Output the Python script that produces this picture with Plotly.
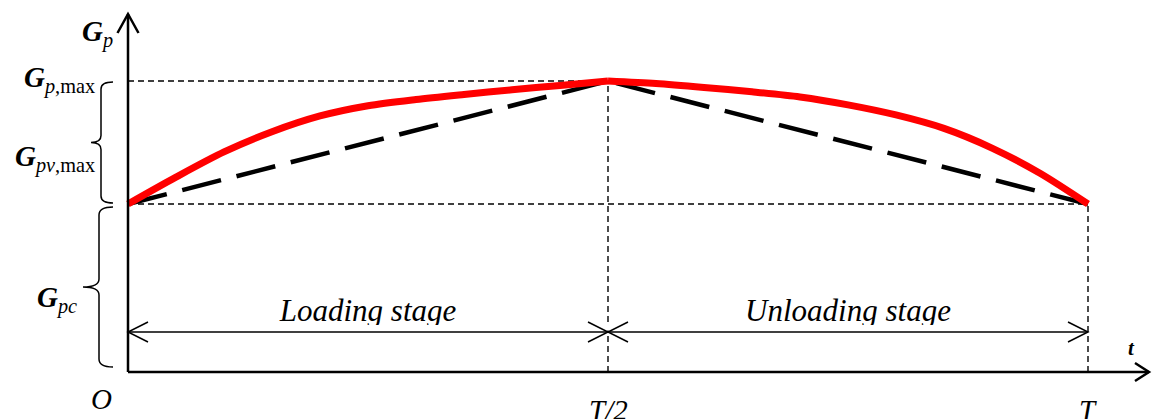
import plotly.graph_objects as go

# ---- data -------------------------------------------------------------
# time as a fraction of the period T
t_curve = [0.00, 0.05, 0.10, 0.15, 0.20, 0.25, 0.30, 0.35, 0.40, 0.45, 0.50,
           0.55, 0.60, 0.65, 0.70, 0.75, 0.80, 0.85, 0.90, 0.95, 1.00]
# actual pressure-related force G_p over the cycle (units of G_pc)
gp_curve = [1.000, 1.160, 1.310, 1.430, 1.524, 1.585, 1.622, 1.652, 1.680, 1.706, 1.732,
            1.717, 1.694, 1.668, 1.637, 1.590, 1.530, 1.450, 1.333, 1.183, 1.000]

Gpc = 1.0          # constant part
Gpv_max = 0.732    # variable part at its peak
Gp_max = Gpc + Gpv_max

t_ticks = [0.0, 0.5, 1.0]
t_tick_labels = ["O", "T/2", "T"]
stage_labels = ["Loading stage", "Unloading stage"]

# linear (idealised) loading / unloading path
t_lin = [0.0, 0.5, 1.0]
gp_lin = [Gpc, Gp_max, Gpc]

# ---- canvas scaling ---------------------------------------------------
W, H = 1152, 419
X0_PX, Y0_PX = 128, 372          # pixel position of the origin
PX_PER_T, PX_PER_G = 960, 168


def tx(px):
    return (px - X0_PX) / PX_PER_T


def gy(py):
    return (Y0_PX - py) / PX_PER_G


def dx(px):
    return px / PX_PER_T


def dy(px):
    return px / PX_PER_G


FONT = "Liberation Serif"
BLACK = "#000000"

fig = go.Figure()

# thin dashed reference lines
ref_lines = [
    ([0, 0.5], [Gp_max, Gp_max]),
    ([0, 1.0], [Gpc, Gpc]),
    ([0.5, 0.5], [0, Gp_max]),
    ([1.0, 1.0], [0, Gpc]),
]
for xs, ys in ref_lines:
    fig.add_trace(go.Scatter(x=xs, y=ys, mode="lines",
                             line=dict(color=BLACK, width=1.4, dash="6px,4px"),
                             hoverinfo="skip", showlegend=False))

# idealised linear path
fig.add_trace(go.Scatter(x=t_lin, y=gp_lin, mode="lines",
                         line=dict(color=BLACK, width=4.5, dash="40px,16px"),
                         hoverinfo="skip", showlegend=False))

# actual curve: loading and unloading halves, smoothed separately
mid = t_curve.index(0.5)
for sl in (slice(0, mid + 1), slice(mid, None)):
    fig.add_trace(go.Scatter(x=t_curve[sl], y=gp_curve[sl], mode="lines",
                             line=dict(color="#FF0000", width=7,
                                       shape="spline", smoothing=0.8),
                             hoverinfo="skip", showlegend=False))

# stage labels (plain text trace so they sit beneath the clip strip)
y_dim = gy(332)
fig.add_trace(go.Scatter(
    x=[0.25, 0.75], y=[y_dim + dy(19), y_dim + dy(19)],
    mode="text", text=[f"<i>{s}</i>" for s in stage_labels],
    textposition="middle center",
    textfont=dict(family=FONT, size=31, color=BLACK),
    hoverinfo="skip", showlegend=False))

shapes = []


def seg(x0, y0, x1, y1, w):
    shapes.append(dict(type="line", xref="x", yref="y", x0=x0, y0=y0, x1=x1, y1=y1,
                       line=dict(color=BLACK, width=w), layer="above"))


def vhead(tip_x, tip_y, direction, length, half, w):
    # open "V" arrowhead, sizes in pixels
    if direction == "left":
        p1 = (tip_x + dx(length), tip_y + dy(half))
        p2 = (tip_x + dx(length), tip_y - dy(half))
    elif direction == "right":
        p1 = (tip_x - dx(length), tip_y + dy(half))
        p2 = (tip_x - dx(length), tip_y - dy(half))
    else:  # up
        p1 = (tip_x - dx(half), tip_y - dy(length))
        p2 = (tip_x + dx(half), tip_y - dy(length))
    path = f"M {p1[0]},{p1[1]} L {tip_x},{tip_y} L {p2[0]},{p2[1]}"
    shapes.append(dict(type="path", xref="x", yref="y", path=path,
                       line=dict(color=BLACK, width=w), layer="above"))


# white strip trimming the bottoms of the stage labels
shapes.append(dict(type="rect", xref="x", yref="y", x0=tx(250), x1=tx(970),
                   y0=gy(330.5), y1=gy(325), fillcolor="white",
                   line=dict(width=0), layer="above"))

# axes with arrowheads
t_axis_end = tx(1149)
g_axis_end = gy(14)
seg(0, 0, 0, g_axis_end, 2.5)
seg(0, 0, t_axis_end, 0, 2.5)
vhead(0, g_axis_end, "up", 19, 10.5, 2.5)
vhead(t_axis_end, 0, "right", 14, 9, 2.5)

# dimension arrows for the two stages
seg(0, y_dim, 0.5, y_dim, 1.5)
seg(0.5, y_dim, 1.0, y_dim, 1.5)
vhead(0, y_dim, "left", 20, 10, 1.5)
vhead(0.5, y_dim, "right", 20, 10, 1.5)
vhead(0.5, y_dim, "left", 20, 10, 1.5)
vhead(1.0, y_dim, "right", 20, 10, 1.5)


def brace(g_top, g_bot, xe_px, xs_px, xt_px, r_px):
    xe, xs, xt = tx(xe_px), tx(xs_px), tx(xt_px)
    gm = (g_top + g_bot) / 2
    r = dy(r_px)
    path = (f"M {xe},{g_top} Q {xs},{g_top} {xs},{g_top - r} "
            f"L {xs},{gm + r} Q {xs},{gm} {xt},{gm} "
            f"Q {xs},{gm} {xs},{gm - r} "
            f"L {xs},{g_bot + r} Q {xs},{g_bot} {xe},{g_bot}")
    shapes.append(dict(type="path", xref="x", yref="y", path=path,
                       line=dict(color=BLACK, width=1.5), layer="above"))


brace(Gp_max - dy(1), Gpc + dy(1), 113, 101, 91, 7)
brace(Gpc - dy(3), 0 + dy(5), 113, 99, 83, 8)

annotations = []


def label(text, x, y, xanchor="center", size=29):
    annotations.append(dict(text=text, x=x, y=y, xref="x", yref="y",
                            xanchor=xanchor, yanchor="middle", showarrow=False,
                            font=dict(family=FONT, size=size, color=BLACK)))


G = "<b><i>G</i></b>"
label(f"{G}<sub><i>p</i></sub>", tx(115), gy(33), "right")
label(f"{G}<sub><i>p</i>,max</sub>", tx(97), Gp_max + dy(2), "right")
label(f"{G}<sub><i>pv</i>,max</sub>", tx(97), gy(158), "right")
label(f"{G}<sub><i>pc</i></sub>", tx(79), gy(299), "right")

for tv, tl in zip(t_ticks, t_tick_labels):
    yy = gy(399) if tl == "O" else gy(410)
    xx = tx(101) if tl == "O" else tv
    label(f"<i>{tl}</i>", xx, yy)
label("<b><i>t</i></b>", tx(1131), gy(348), size=21)

fig.update_layout(
    width=W, height=H,
    margin=dict(l=0, r=0, t=0, b=0),
    paper_bgcolor="white", plot_bgcolor="white",
    xaxis=dict(range=[tx(0), tx(W)], visible=False, fixedrange=True),
    yaxis=dict(range=[gy(H), gy(0)], visible=False, fixedrange=True),
    shapes=shapes, annotations=annotations,
    showlegend=False,
)

fig.write_html("out.html")
